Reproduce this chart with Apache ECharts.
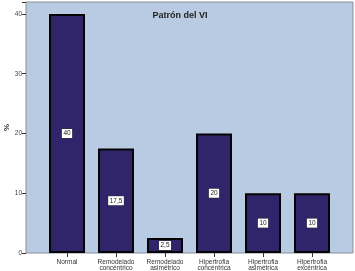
<!DOCTYPE html>
<html><head><meta charset="utf-8">
<style>html,body{margin:0;padding:0;background:#fff}#c{width:355px;height:271px}</style>
<script src="https://cdn.jsdelivr.net/npm/echarts@6/dist/echarts.min.js"></script>
</head><body><div id="c"></div>
<script>
const categories = ['Normal', 'Remodelado\nconcéntrico', 'Remodelado\nasimétrico', 'Hipertrofia\nconcéntrica', 'Hipertrofia\nasimétrica', 'Hipertrofia\nexcéntrica'];
const values = [40, 17.5, 2.5, 20, 10, 10];
const valueLabels = ['40', '17,5', '2,5', '20', '10', '10'];
const yTicks = [0, 10, 20, 30, 40];

const chart = echarts.init(document.getElementById('c'), null, {renderer: 'canvas'});
const TOP = 2, BOTTOM = 271 - 253;
chart.setOption({
  animation: false,
  title: {
    text: 'Patrón del VI', left: 175, top: 6, textAlign: 'center',
    textStyle: {fontFamily: 'Liberation Sans', fontSize: 9, fontWeight: 'bold', color: '#222'}
  },
  grid: [
    {left: 26, right: 2, top: TOP, bottom: BOTTOM, show: true, backgroundColor: '#b9cbe3', borderColor: '#8a8f98', borderWidth: 1, outerBoundsMode: 'none', containLabel: false},
    {left: 42.5, right: 18.5, top: TOP, bottom: BOTTOM, outerBoundsMode: 'none', containLabel: false}
  ],
  xAxis: [
    {gridIndex: 0, type: 'value', show: false, min: 0, max: 1},
    {gridIndex: 1, type: 'category', data: categories,
     axisLine: {show: false},
     axisTick: {show: true, alignWithLabel: true, length: 4, lineStyle: {color: '#333'}},
     axisLabel: {fontFamily: 'Liberation Sans', fontSize: 6.5, color: '#333', lineHeight: 6.5, margin: 5.5, interval: 0}
    }
  ],
  yAxis: [
    {gridIndex: 0, type: 'value', min: 0, max: 42, interval: 10,
     name: '%', nameLocation: 'middle', nameGap: 15, nameRotate: 90, nameMoveOverlap: false,
     nameTextStyle: {fontFamily: 'Liberation Sans', fontSize: 8, fontWeight: 'bold', color: '#333'},
     axisLine: {show: false}, splitLine: {show: false},
     axisTick: {show: true, length: 4, lineStyle: {color: '#333'}},
     axisLabel: {fontFamily: 'Liberation Sans', fontSize: 6.5, color: '#444', margin: 4,
       formatter: v => yTicks.includes(v) ? String(v) : ''},
     showMaxLabel: false
    },
    {gridIndex: 1, type: 'value', min: 0, max: 42, show: false}
  ],
  series: [{
    type: 'bar', xAxisIndex: 1, yAxisIndex: 1,
    data: values, barWidth: 36,
    itemStyle: {color: '#30256a', borderColor: '#050505', borderWidth: 2},
    label: {
      show: true, position: 'inside',
      formatter: p => valueLabels[p.dataIndex],
      fontFamily: 'Liberation Sans', fontSize: 6.5, color: '#222',
      backgroundColor: '#ffffff', borderColor: '#333', borderWidth: 0.5, padding: [1, 1.5]
    }
  }]
});
</script></body></html>
